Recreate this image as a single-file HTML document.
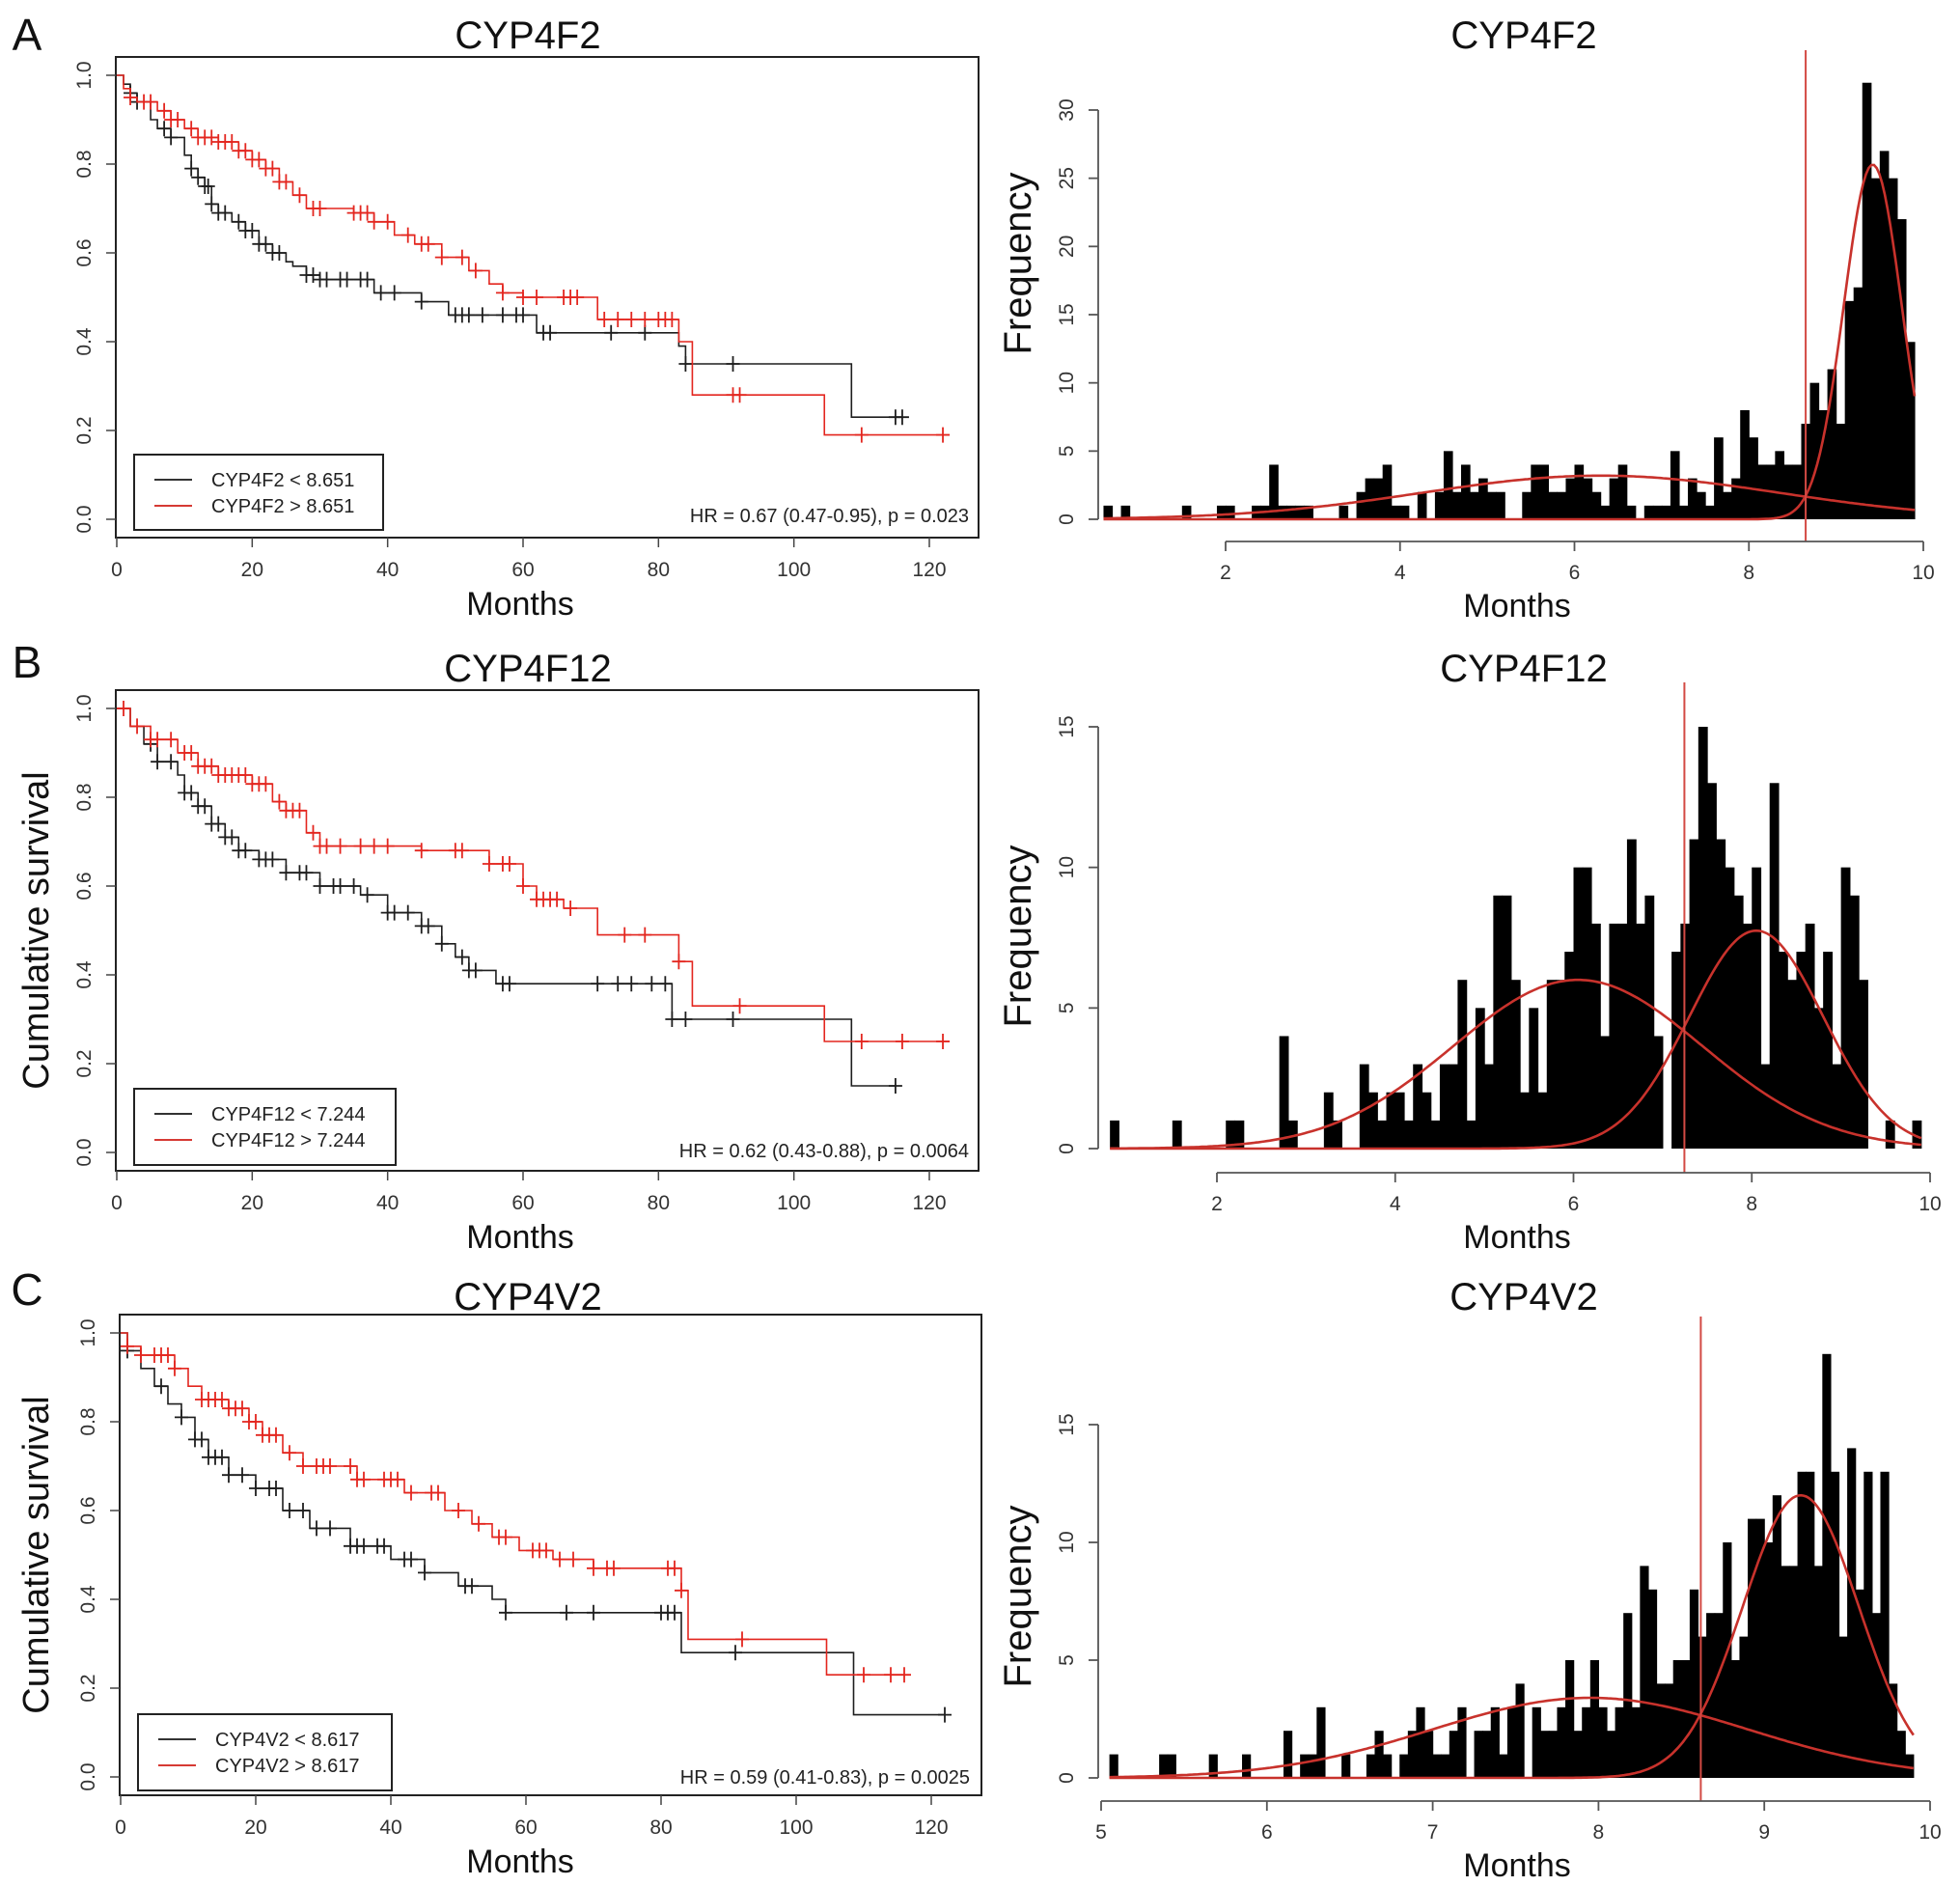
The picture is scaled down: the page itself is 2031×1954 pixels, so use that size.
<!DOCTYPE html>
<html><head><meta charset="utf-8">
<style>
html,body{margin:0;padding:0;background:#fff;}
svg{display:block;font-family:"Liberation Sans",sans-serif;}
</style></head>
<body>
<svg id="fig" width="2031" height="1954" viewBox="0 0 2031 1954" xmlns="http://www.w3.org/2000/svg"></svg>
<script>
// ---------- Data: KM panel A ----------
const kmA_lowSteps_t = [0,1,2,3,5,6,8,10,11,12,13,14,15,17,19,21,23,25,26,28,30,38,45,49,62,83,84,108.5];
const kmA_lowSteps_s = [1,0.98,0.96,0.94,0.9,0.88,0.86,0.82,0.79,0.77,0.75,0.71,0.69,0.67,0.65,0.62,0.6,0.58,0.57,0.55,0.54,0.51,0.49,0.46,0.42,0.39,0.35,0.23];
const kmA_lowEnd = 116;
const kmA_lowCens = [2,3,7,8,11,12,13,13.5,14,15,16,18,19,20,21,22,23,24,28,29,30,31,33,34,36,37,39,41,45,50,51,52,54,57,59,60,63,64,73,78,84,91,115,116];
const kmA_highSteps_t = [0,1,2,3,6,8,10,12,15,18,20,22,24,26,28,35,38,41,44,48,52,55,57,60,71,83,85,104.5];
const kmA_highSteps_s = [1,0.97,0.95,0.94,0.92,0.9,0.88,0.86,0.85,0.83,0.81,0.79,0.76,0.73,0.7,0.69,0.67,0.64,0.62,0.59,0.56,0.53,0.51,0.5,0.45,0.4,0.28,0.19];
const kmA_highEnd = 123;
const kmA_highCens = [2,4,5,7,8,9,11,12,13,14,15,16,17,18,19,20,21,22,23,24,25,27,29,30,35,36,37,38,40,43,45,46,48,51,53,57,60,62,66,67,68,72,74,76,78,80,81,82,91,92,110,122];
// ---------- KM panel B ----------
const kmB_lowSteps_t = [0,2,4,6,9,10,12,14,16,18,21,25,30,36,40,45,48,50,52,56,82,108.5];
const kmB_lowSteps_s = [1,0.96,0.92,0.88,0.85,0.81,0.78,0.74,0.71,0.68,0.66,0.63,0.6,0.58,0.54,0.51,0.47,0.44,0.41,0.38,0.3,0.15];
const kmB_lowEnd = 115;
const kmB_lowCens = [5,6,8,10,11,12,13,14,15,16,17,18,19,21,22,23,25,27,28,30,32,33,35,37,40,41,43,45,46,48,51,52,53,57,58,71,74,76,79,81,82,84,91,115];
const kmB_highSteps_t = [0,2,5,9,12,15,20,23,25,28,30,45,55,60,62,66,71,83,85,104.5];
const kmB_highSteps_s = [1,0.96,0.93,0.9,0.87,0.85,0.83,0.79,0.77,0.72,0.69,0.68,0.65,0.6,0.57,0.55,0.49,0.43,0.33,0.25];
const kmB_highEnd = 123;
const kmB_highCens = [1,3,5,6,8,10,11,12,13,14,15,16,17,18,19,20,21,22,24,25,26,27,29,30,31,33,36,38,40,45,50,51,55,57,58,60,62,63,64,65,67,75,78,83,92,110,116,122];
// ---------- KM panel C ----------
const kmC_lowSteps_t = [0,1,3,5,7,9,11,13,16,20,24,28,34,40,45,50,55,57,83,108.5];
const kmC_lowSteps_s = [1,0.96,0.92,0.88,0.84,0.81,0.76,0.72,0.68,0.65,0.6,0.56,0.52,0.49,0.46,0.43,0.4,0.37,0.28,0.14];
const kmC_lowEnd = 122;
const kmC_lowCens = [1,6,9,11,12,13,14,15,16,18,20,22,23,25,27,29,31,34,35,36,38,39,42,43,45,51,52,57,66,70,80,81,82,91,122];
const kmC_highSteps_t = [0,1,3,8,10,12,16,19,21,24,27,35,42,48,52,55,59,64,70,83,84,104.5];
const kmC_highSteps_s = [1,0.97,0.95,0.92,0.88,0.85,0.83,0.8,0.77,0.73,0.7,0.67,0.64,0.6,0.57,0.54,0.51,0.49,0.47,0.42,0.31,0.23];
const kmC_highEnd = 116;
const kmC_highCens = [1,3,5,6,7,8,12,13,14,15,16,17,18,19,20,21,22,23,25,27,29,30,31,34,35,36,39,40,41,43,46,47,50,53,56,57,61,62,63,65,67,70,72,73,81,82,83,92,110,114,116];
const kmXTicks = [0,20,40,60,80,100,120];
const kmYTicks = ["0.0","0.2","0.4","0.6","0.8","1.0"];

// ---------- Histogram A (bin width 0.1, start 0.6) ----------
const histA_start = 0.6, histA_width = 0.1;
const histA_counts = [1,0,1,0,0,0,0,0,0,1,0,0,0,1,1,0,0,1,1,4,1,1,1,1,0,0,0,1,0,2,3,3,4,1,1,0,2,0,2,5,2,4,2,3,2,2,0,0,2,4,4,2,2,3,4,3,2,1,3,4,1,0,1,1,1,5,1,3,2,1,6,2,3,8,6,4,4,5,4,4,7,10,8,11,7,16,17,32,25,27,25,22,13];
const histA_means = [6.3,9.42], histA_sds = [2.05,0.33], histA_peaks = [3.2,26];
const histA_cut = 8.651;
const histA_xTicks = [2,4,6,8,10], histA_yTicks = [0,5,10,15,20,25,30];
// ---------- Histogram B (bin width 0.1, start 0.8) ----------
const histB_start = 0.8, histB_width = 0.1;
const histB_counts = [1,0,0,0,0,0,0,1,0,0,0,0,0,1,1,0,0,0,0,4,1,0,0,0,2,1,0,0,3,2,1,2,2,1,3,2,1,3,3,6,1,5,3,9,9,6,2,5,2,6,6,7,10,10,8,4,8,8,11,8,9,4,0,7,8,11,15,13,11,10,9,8,10,3,13,7,6,7,8,5,7,3,10,9,6,0,0,1,0,0,1];
const histB_means = [6.05,8.05], histB_sds = [1.4,0.75], histB_peaks = [6,7.75];
const histB_cut = 7.244;
const histB_xTicks = [2,4,6,8,10], histB_yTicks = [0,5,10,15];
// ---------- Histogram C (bin width 0.05, start 5.05) ----------
const histC_start = 5.05, histC_width = 0.05;
const histC_counts = [1,0,0,0,0,0,1,1,0,0,0,0,1,0,0,0,1,0,0,0,0,2,0,1,1,3,0,0,1,0,0,1,2,1,0,1,2,3,2,1,1,2,3,0,2,2,3,1,3,4,0,3,2,2,3,5,2,3,5,3,2,3,7,3,9,8,4,4,5,5,8,6,7,7,10,5,6,11,11,10,12,9,9,13,13,9,18,13,6,14,8,13,7,13,4,2,1];
const histC_means = [7.95,9.22], histC_sds = [0.95,0.35], histC_peaks = [3.4,12];
const histC_cut = 8.617;
const histC_xTicks = [5,6,7,8,9,10], histC_yTicks = [0,5,10,15];

const NS = "http://www.w3.org/2000/svg";
const svg = document.getElementById('fig');
function mk(tag, attrs, parent){
  const e = document.createElementNS(NS, tag);
  for (const k in attrs) e.setAttribute(k, attrs[k]);
  (parent||svg).appendChild(e);
  return e;
}
function txt(parent, x, y, s, size, anchor, rot, fill){
  const t = mk('text', {x:x, y:y, 'font-size':size, 'text-anchor':anchor||'middle', fill:fill||'#1a1a1a'}, parent);
  if (rot) t.setAttribute('transform', 'rotate(' + rot + ' ' + x + ' ' + y + ')');
  t.textContent = s;
  return t;
}

function drawKM(cfg){
  const g = mk('g', {});
  
  
  const X = t => cfg.x0 + (t/120)*(cfg.x120 - cfg.x0);
  const Y = s => cfg.y0 - s*(cfg.y0 - cfg.y1);
  const box = mk('rect', {x:cfg.bx0, y:cfg.by0, width:cfg.bx1-cfg.bx0, height:cfg.by1-cfg.by0, fill:'none', stroke:'#222', 'stroke-width':2}, g);
  
  
  kmXTicks.forEach(v => {
    mk('line', {x1:X(v), x2:X(v), y1:cfg.by1, y2:cfg.by1+10, stroke:'#444', 'stroke-width':1.5}, g);
    const t = txt(g, X(v), cfg.by1+40, String(v), 21, 'middle', 0, '#333');
    
    
  });
  kmYTicks.forEach(lbl => {
    const v = parseFloat(lbl);
    mk('line', {x1:cfg.bx0-10, x2:cfg.bx0, y1:Y(v), y2:Y(v), stroke:'#444', 'stroke-width':1.5}, g);
    const t = txt(g, cfg.bx0-26, Y(v), lbl, 21, 'middle', -90, '#333');
    
    
  });
  const series = [
    {t:cfg.lowT, s:cfg.lowS, end:cfg.lowEnd, c:cfg.lowC, col:'#1e1e1e', nm:'survival-curve-low'},
    {t:cfg.highT, s:cfg.highS, end:cfg.highEnd, c:cfg.highC, col:'#e3261f', nm:'survival-curve-high'}
  ];
  series.forEach(se => {
    let d = 'M' + X(se.t[0]) + ',' + Y(se.s[0]);
    for (let i=1;i<se.t.length;i++){
      d += ' H' + X(se.t[i]) + ' V' + Y(se.s[i]);
    }
    d += ' H' + X(se.end);
    const p = mk('path', {d:d, fill:'none', stroke:se.col, 'stroke-width':1.6}, g);
    
    
    se.c.forEach(ct => {
      let sv = se.s[0];
      for (let i=0;i<se.t.length;i++) if (se.t[i] <= ct) sv = se.s[i];
      const cx = X(ct), cy = Y(sv);
      const m = mk('path', {d:'M'+(cx-7)+','+cy+' H'+(cx+7)+' M'+cx+','+(cy-8)+' V'+(cy+8), stroke:se.col, 'stroke-width':1.8, fill:'none'}, g);
      
      
    });
  });
  const L = cfg.leg;
  const lb = mk('rect', {x:L.x0, y:L.y0, width:L.x1-L.x0, height:L.y1-L.y0, fill:'#fff', stroke:'#222', 'stroke-width':2}, g);
  
  
  [[L.r1, '#333', cfg.lab1], [L.r2, '#d63a34', cfg.lab2]].forEach(r => {
    mk('line', {x1:L.x0+21, x2:L.x0+60, y1:r[0], y2:r[0], stroke:r[1], 'stroke-width':2}, g);
    const t = txt(g, L.x0+80, r[0]+7, r[2], 20, 'start', 0, '#222');
    
    
  });
  const hr = txt(g, cfg.hrX, cfg.hrY, cfg.hr, 20, 'end', 0, '#222');
  
  
  const ti = txt(g, cfg.titleX, cfg.titleY, cfg.title, 40, 'middle', 0, '#111');
  
  
  const xl = txt(g, cfg.titleX - 8, cfg.by1 + 80, 'Months', 34, 'middle', 0, '#111');
  
  
  if (cfg.ylab){
    const yl = txt(g, 50, (cfg.by0+cfg.by1)/2, 'Cumulative survival', 38, 'middle', -90, '#111');
    
    
  }
}

function gauss(x, m, s, h){ return h*Math.exp(-(x-m)*(x-m)/(2*s*s)); }

function drawHist(cfg){
  const g = mk('g', {});
  
  
  const X = v => cfg.xa + (v - cfg.va)*(cfg.xb - cfg.xa)/(cfg.vb - cfg.va);
  const Y = c => cfg.y0 - c*(cfg.y0 - cfg.yTopPx)/cfg.yTopVal;
  cfg.counts.forEach((c, i) => {
    if (c <= 0) return;
    const l = cfg.start + i*cfg.width;
    const r = mk('rect', {x:X(l), y:Y(c), width:X(l+cfg.width)-X(l)+0.6, height:Y(0)-Y(c), fill:'#000'}, g);
    
    
  });
  const lo = cfg.start, hi = cfg.start + cfg.counts.length*cfg.width;
  for (let k=0;k<2;k++){
    let d = '';
    for (let j=0;j<=300;j++){
      const v = lo + (hi-lo)*j/300;
      const yy = Y(gauss(v, cfg.means[k], cfg.sds[k], cfg.peaks[k]));
      d += (j? ' L':'M') + X(v).toFixed(1) + ',' + yy.toFixed(1);
    }
    const p = mk('path', {d:d, fill:'none', stroke:'#c8322c', 'stroke-width':2.6}, g);
    
    
  }
  const vl = mk('line', {x1:X(cfg.cut), x2:X(cfg.cut), y1:cfg.vTop, y2:cfg.xAxisY, stroke:'#d34a44', 'stroke-width':2}, g);
  
  
  mk('line', {x1:X(cfg.xTicks[0]), x2:X(cfg.xTicks[cfg.xTicks.length-1]), y1:cfg.xAxisY, y2:cfg.xAxisY, stroke:'#555', 'stroke-width':1.8}, g);
  cfg.xTicks.forEach(v => {
    mk('line', {x1:X(v), x2:X(v), y1:cfg.xAxisY, y2:cfg.xAxisY+10, stroke:'#555', 'stroke-width':1.8}, g);
    const t = txt(g, X(v), cfg.xAxisY+39, String(v), 21, 'middle', 0, '#333');
    
    
  });
  const yv = cfg.yTicks;
  mk('line', {x1:cfg.yAxisX, x2:cfg.yAxisX, y1:Y(yv[0]), y2:Y(yv[yv.length-1]), stroke:'#555', 'stroke-width':1.8}, g);
  yv.forEach(v => {
    mk('line', {x1:cfg.yAxisX-10, x2:cfg.yAxisX, y1:Y(v), y2:Y(v), stroke:'#555', 'stroke-width':1.8}, g);
    const t = txt(g, cfg.yAxisX-26, Y(v), String(v), 21, 'middle', -90, '#333');
    
    
  });
  const ti = txt(g, 1579, cfg.titleY, cfg.title, 40, 'middle', 0, '#111');
  
  
  const xl = txt(g, 1572, cfg.xAxisY + 78, 'Months', 34, 'middle', 0, '#111');
  
  
  const yl = txt(g, 1068, cfg.yLabY, 'Frequency', 40, 'middle', -90, '#111');
  
  
}

[['A',52],['B',702],['C',1352]].forEach(p => {
  const t = txt(svg, 28, p[1], p[0], 46, 'middle', 0, '#111');
  
  
});

drawKM({name:'km-plot-cyp4f2', x0:121, x120:963, y0:538, y1:78, bx0:120, bx1:1014, by0:59, by1:557,
  lowT:kmA_lowSteps_t, lowS:kmA_lowSteps_s, lowEnd:kmA_lowEnd, lowC:kmA_lowCens,
  highT:kmA_highSteps_t, highS:kmA_highSteps_s, highEnd:kmA_highEnd, highC:kmA_highCens,
  leg:{x0:139, x1:397, y0:471, y1:549, r1:497, r2:524}, lab1:'CYP4F2 < 8.651', lab2:'CYP4F2 > 8.651',
  hr:'HR = 0.67 (0.47-0.95), p = 0.023', hrX:1004, hrY:541, title:'CYP4F2', titleX:547, titleY:50, ylab:false});
drawKM({name:'km-plot-cyp4f12', x0:121, x120:963, y0:1194, y1:734, bx0:120, bx1:1014, by0:715, by1:1213,
  lowT:kmB_lowSteps_t, lowS:kmB_lowSteps_s, lowEnd:kmB_lowEnd, lowC:kmB_lowCens,
  highT:kmB_highSteps_t, highS:kmB_highSteps_s, highEnd:kmB_highEnd, highC:kmB_highCens,
  leg:{x0:139, x1:410, y0:1128, y1:1207, r1:1154, r2:1181}, lab1:'CYP4F12 < 7.244', lab2:'CYP4F12 > 7.244',
  hr:'HR = 0.62 (0.43-0.88), p = 0.0064', hrX:1004, hrY:1199, title:'CYP4F12', titleX:547, titleY:706, ylab:true});
drawKM({name:'km-plot-cyp4v2', x0:125, x120:965, y0:1841, y1:1381, bx0:124, bx1:1017, by0:1362, by1:1860,
  lowT:kmC_lowSteps_t, lowS:kmC_lowSteps_s, lowEnd:kmC_lowEnd, lowC:kmC_lowCens,
  highT:kmC_highSteps_t, highS:kmC_highSteps_s, highEnd:kmC_highEnd, highC:kmC_highCens,
  leg:{x0:143, x1:406, y0:1776, y1:1855, r1:1802, r2:1829}, lab1:'CYP4V2 < 8.617', lab2:'CYP4V2 > 8.617',
  hr:'HR = 0.59 (0.41-0.83), p = 0.0025', hrX:1005, hrY:1848, title:'CYP4V2', titleX:547, titleY:1357, ylab:true});

drawHist({name:'histogram-cyp4f2', counts:histA_counts, start:histA_start, width:histA_width,
  means:histA_means, sds:histA_sds, peaks:histA_peaks, cut:histA_cut, xTicks:histA_xTicks, yTicks:histA_yTicks,
  xa:1270, xb:1993, va:2, vb:10, y0:538, yTopPx:114, yTopVal:30, xAxisY:561, yAxisX:1138, vTop:52,
  title:'CYP4F2', titleY:50, yLabY:273});
drawHist({name:'histogram-cyp4f12', counts:histB_counts, start:histB_start, width:histB_width,
  means:histB_means, sds:histB_sds, peaks:histB_peaks, cut:histB_cut, xTicks:histB_xTicks, yTicks:histB_yTicks,
  xa:1261, xb:2000, va:2, vb:10, y0:1190, yTopPx:753, yTopVal:15, xAxisY:1215, yAxisX:1138, vTop:707,
  title:'CYP4F12', titleY:706, yLabY:970});
drawHist({name:'histogram-cyp4v2', counts:histC_counts, start:histC_start, width:histC_width,
  means:histC_means, sds:histC_sds, peaks:histC_peaks, cut:histC_cut, xTicks:histC_xTicks, yTicks:histC_yTicks,
  xa:1141, xb:2000, va:5, vb:10, y0:1842, yTopPx:1476, yTopVal:15, xAxisY:1866, yAxisX:1138, vTop:1364,
  title:'CYP4V2', titleY:1357, yLabY:1654});
</script>
</body></html>
